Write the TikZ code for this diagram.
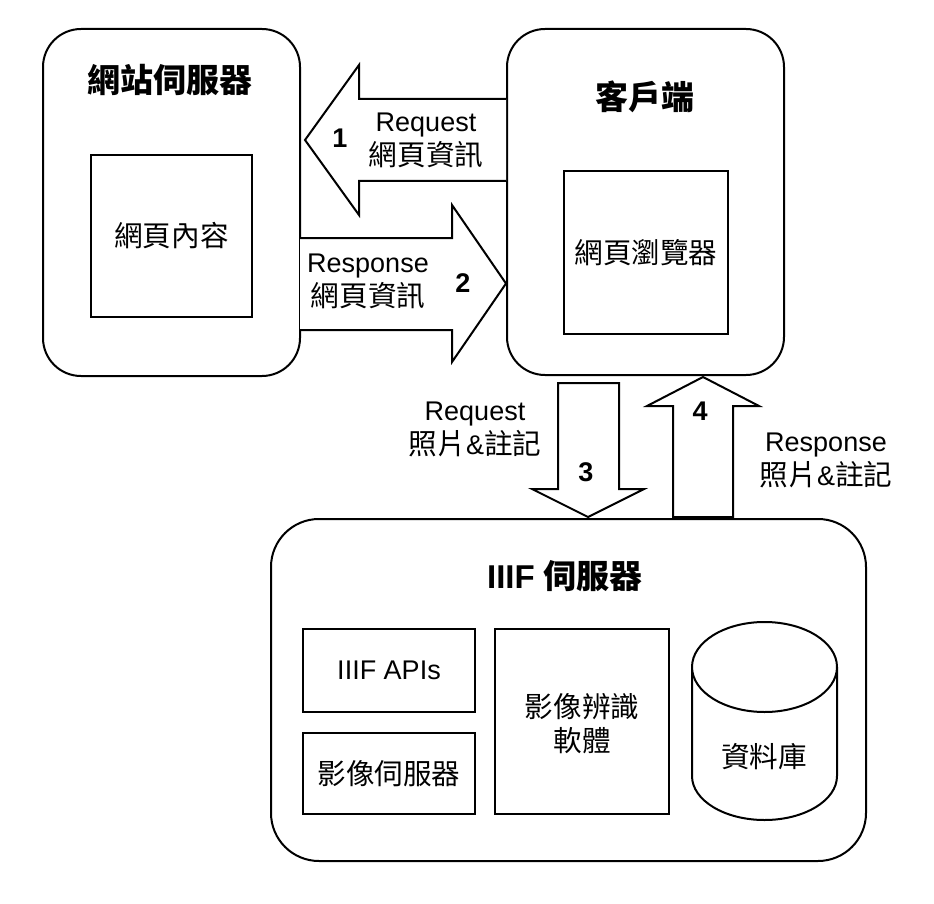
\documentclass[tikz,border=0pt]{standalone}
\usepackage{fontspec}
\setmainfont{Liberation Sans}
\newfontfamily\cjk{Noto Sans CJK TC}
\newfontfamily\cjkr[Scale=1.06]{Noto Sans CJK TC}
\begin{document}
\begin{tikzpicture}[x=1pt,y=-1pt,
  box/.style={draw, line width=2pt, fill=white, inner sep=0pt, outer sep=0pt},
  bigbox/.style={box, rounded corners=#1},
  lbl/.style={font=\fontsize{27}{34}\selectfont, align=center, inner sep=0pt},
  ttl/.style={font=\bfseries\fontsize{33}{38}\selectfont, inner sep=0pt},
  num/.style={font=\bfseries\fontsize{27}{32}\selectfont, inner sep=0pt},
  blockarrow/.style={draw, line width=2pt, fill=white, line join=miter}
]
\useasboundingbox (0,0) rectangle (934,904);
\fill[white] (0,0) rectangle (934,904);

% containers
\node[bigbox=38pt, minimum width=257pt, minimum height=347pt] (web) at (171.5,202.5) {};
\node[bigbox=38pt, minimum width=277pt, minimum height=346pt] (client) at (645.5,202) {};
\node[bigbox=48pt, minimum width=595pt, minimum height=342pt] (iiif) at (568.5,690) {};

% titles
\node[ttl] (webt) at (170,80) {\cjk 網站伺服器};
\node[ttl] (clientt) at (645,97) {\cjk 客戶端};
\node[ttl] (iiift) at (565,576) {IIIF {\cjk 伺服器}};

% inner boxes
\node[box, minimum width=161pt, minimum height=162pt] (content) at (171.5,236) {};
\node[lbl] at (content.center) {\cjkr 網頁內容};
\node[box, minimum width=164pt, minimum height=163pt] (browser) at (646,252.5) {};
\node[lbl] at (browser.center) {\cjkr 網頁瀏覽器};
\node[box, minimum width=172pt, minimum height=83pt] (apis) at (389,670.5) {};
\node[lbl] at (apis.center) {IIIF APIs};
\node[box, minimum width=172pt, minimum height=81pt] (imgsrv) at (389,773.5) {};
\node[lbl] at (imgsrv.center) {\cjkr 影像伺服器};
\node[box, minimum width=174pt, minimum height=185pt] (recog) at (582,721.5) {};
\node[lbl] at (582,724) {\cjkr 影像辨識\\\cjkr 軟體};

% database cylinder
\draw[line width=2pt, fill=white] (692,667) -- (692,776)
  arc[start angle=180, end angle=360, x radius=72.5pt, y radius=44pt]
  -- (837,667);
\draw[line width=2pt, fill=white] (764.5,667) ellipse [x radius=72.5, y radius=45];
\node[lbl] (db) at (764,757) {\cjkr 資料庫};

% block arrows
\draw[blockarrow] (506,99) -- (359,99) -- (359,65) -- (305,140) -- (359,215) -- (359,181) -- (506,181);
\draw[blockarrow] (300,238) -- (452,238) -- (452,205) -- (506,283.5) -- (452,362) -- (452,330) -- (300,330);
\draw[blockarrow] (558,383) -- (619,383) -- (619,489) -- (644,489) -- (588,517) -- (532,489) -- (558,489) -- cycle;
\draw[blockarrow] (673,517) -- (673,406) -- (647,406) -- (703,377) -- (759,406) -- (733,406) -- (733,517) -- cycle;

% labels
\node[num] (n1) at (340,138) {1};
\node[lbl] (l1) at (426,140) {Request\\\cjkr 網頁資訊};
\node[num] (n2) at (463,283) {2};
\node[lbl] (l2) at (368,281) {Response\\\cjkr 網頁資訊};
\node[num] (n3) at (586,472) {3};
\node[lbl] (l3) at (475,429) {Request\\{\cjkr 照片}\&{\cjkr 註記}};
\node[num] (n4) at (700,411) {4};
\node[lbl] (l4) at (826,460) {Response\\{\cjkr 照片}\&{\cjkr 註記}};
\end{tikzpicture}
\end{document}
